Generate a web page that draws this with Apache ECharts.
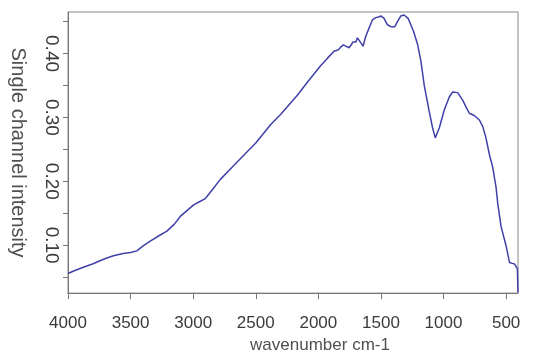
<!DOCTYPE html>
<html>
<head>
<meta charset="utf-8">
<script src="https://cdn.jsdelivr.net/npm/echarts@6/dist/echarts.min.js"></script>
<style>html,body{margin:0;padding:0;background:#fff}#c{width:536px;height:359px}</style>
</head>
<body>
<div id="c"></div>
<script>
var wavenumbers = [4000,3950,3877,3800,3744,3690,3637,3560,3500,3450,3400,3343,3280,3210,3150,3103,3050,2996,2950,2903,2850,2783,2689,2600,2500,2382,2300,2168,2080,1982,1930,1875,1840,1822,1800,1782,1770,1755,1735,1725,1715,1700,1688,1675,1662,1643,1621,1595,1568,1541,1520,1501,1475,1448,1421,1389,1368,1341,1315,1283,1261,1239,1207,1181,1154,1114,1087,1066,1034,994,954,927,887,847,820,794,754,714,687,661,634,607,580,567,540,500,473,450,433,410,405];
var intensity = [0.0557,0.060,0.0654,0.071,0.0757,0.080,0.0834,0.087,0.0885,0.0911,0.099,0.1065,0.114,0.122,0.133,0.145,0.154,0.163,0.168,0.173,0.186,0.203,0.222,0.240,0.260,0.2885,0.305,0.3346,0.357,0.381,0.392,0.4035,0.406,0.410,0.4135,0.4115,0.413,0.409,0.414,0.418,0.4203,0.418,0.4245,0.421,0.419,0.4115,0.427,0.4398,0.4526,0.4562,0.457,0.4588,0.455,0.445,0.442,0.442,0.450,0.4588,0.4603,0.455,0.445,0.4346,0.414,0.3885,0.350,0.309,0.2834,0.268,0.2834,0.3115,0.332,0.3398,0.3388,0.327,0.316,0.3065,0.303,0.296,0.286,0.268,0.2423,0.222,0.190,0.1654,0.129,0.0988,0.073,0.0715,0.0706,0.063,0.026];
var xTicks = [4000,3500,3000,2500,2000,1500,1000,500];
var yTicks = [0.05,0.10,0.15,0.20,0.25,0.30,0.35,0.40,0.45];
var yLabels = [0.10,0.20,0.30,0.40];

var data = wavenumbers.map(function(w,i){return [w,intensity[i]];});
var chart = echarts.init(document.getElementById('c'));
chart.setOption({
  animation:false,
  grid:{left:68,right:18,top:12,bottom:61,show:true,borderColor:'#8a8a8a',borderWidth:1},
  xAxis:{
    type:'value',inverse:true,min:405,max:4000,
    name:'wavenumber cm-1',nameLocation:'middle',nameGap:40,
    nameTextStyle:{fontFamily:'Liberation Sans',fontSize:17,color:'#505050',padding:[0,0,0,54]},
    axisLine:{show:true,onZero:false,lineStyle:{color:'#777',width:1}},
    axisTick:{show:true,length:6,customValues:xTicks,lineStyle:{color:'#777'}},
    axisLabel:{customValues:xTicks,margin:22,fontFamily:'Liberation Sans',fontSize:17,color:'#3a3a3a',
      formatter:function(v){return String(v);}},
    splitLine:{show:false}
  },
  yAxis:{
    type:'value',min:0.025,max:0.465,
    name:'Single channel intensity',nameLocation:'middle',nameGap:40,nameRotate:-90,
    nameTextStyle:{fontFamily:'Liberation Sans',fontSize:20,color:'#505050'},
    axisLine:{show:true,onZero:false,lineStyle:{color:'#777',width:1}},
    axisTick:{show:true,length:5,customValues:yTicks,lineStyle:{color:'#777'}},
    axisLabel:{customValues:yLabels,rotate:-90,margin:7,fontFamily:'Liberation Sans',fontSize:19,color:'#3a3a3a',
      formatter:function(v){return v.toFixed(2);}},
    splitLine:{show:false}
  },
  series:[{
    type:'line',data:data,showSymbol:false,symbol:'none',
    lineStyle:{color:'#4040aa',width:1.5}
  }]
});
</script>
</body>
</html>
